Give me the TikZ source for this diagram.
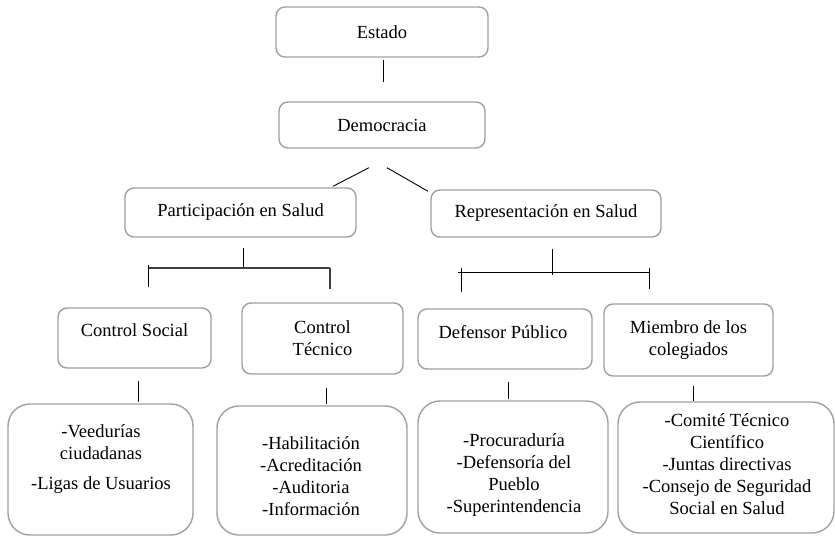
\documentclass[tikz,border=0pt]{standalone}
\usepackage{fontspec}
\setmainfont{Liberation Serif}
\usetikzlibrary{calc}
\definecolor{boxgray}{HTML}{A0A0A0}
\definecolor{brkgray}{HTML}{404040}
\begin{document}
\begin{tikzpicture}[x=1pt,y=-1pt,
  box/.style={draw=boxgray, line width=1.4pt, rounded corners=9pt, inner sep=0pt, align=center, font=\fontsize{18.5}{22}\selectfont},
  bigbox/.style={box, rounded corners=22pt},
  txt/.style={align=center, inner sep=0pt, font=\fontsize{18.5}{22}\selectfont},
  conn/.style={draw=black, line width=0.9pt},
  brk/.style={draw=brkgray, line width=1.3pt}]
\useasboundingbox (0,0) rectangle (835,544);

% top
\node[box, minimum width=212pt, minimum height=50pt] (estado) at (382,32) {Estado};
\node[box, minimum width=206pt, minimum height=46pt] (democracia) at (382,125) {Democracia};
\node[box, minimum width=231pt, minimum height=49pt] (part) at (240.5,212.5) {Participación en Salud};
\node[box, minimum width=230pt, minimum height=47pt] (repr) at (546,213.5) {Representación en Salud};

% middle
\node[box, minimum width=153pt, minimum height=60pt] (cs) at (134.5,338) {};
\node[txt] (tcs) at (134.5,330) {Control Social};
\node[box, minimum width=161pt, minimum height=71pt] (ct) at (322.5,338.5) {Control\\Técnico};
\node[box, minimum width=174pt, minimum height=60pt] (dp) at (505,339) {};
\node[txt] (tdp) at (503,332) {Defensor Público};
\node[box, minimum width=169pt, minimum height=72pt] (mc) at (688.5,340) {Miembro de los\\colegiados};

% bottom
\node[bigbox, minimum width=185pt, minimum height=131pt] (b1) at (100.5,469.5) {};
\node[txt] (tb1) at (101,459) {-Veedurías\\ciudadanas\\[8pt]-Ligas de Usuarios};
\node[bigbox, minimum width=190pt, minimum height=129pt] (b2) at (312,470.5) {};
\node[txt] (tb2) at (311,476) {-Habilitación\\-Acreditación\\-Auditoria\\-Información};
\node[bigbox, minimum width=190pt, minimum height=132pt] (b3) at (513,467) {};
\node[txt] (tb3) at (514,475) {-Procuraduría\\-Defensoría del\\Pueblo\\-Superintendencia};
\node[bigbox, minimum width=216pt, minimum height=131pt] (b4) at (726,467.5) {};
\node[txt] (tb4) at (727,464) {-Comité Técnico\\Científico\\-Juntas directivas\\-Consejo de Seguridad\\Social en Salud};

% connectors top
\draw[conn] ($(estado.south)+(1,2)$) -- ($(democracia.north)+(1,-19)$);
\draw[conn] ($(democracia.south)+(-13,19)$) -- ($(part.north)+(92.5,-1)$);
\draw[conn] ($(democracia.south)+(5,19)$) -- ($(repr.north)+(-118,2)$);

% left bracket
\coordinate (lbs) at ($(part.south)+(2.5,31)$);
\coordinate (lbl) at (148,268);
\coordinate (lbr) at (330,268);
\draw[conn] ($(part.south)+(2.5,10)$) -- (lbs);
\draw[brk] (lbl) -- (lbr);
\draw[conn] ($(lbl)+(0,-3)$) -- ($(lbl)+(0,19)$);
\draw[brk] (lbr) -- ($(lbr)+(0,21)$);

% right bracket
\coordinate (rbs) at ($(repr.south)+(6,37)$);
\coordinate (rbl) at (458,272);
\coordinate (rbr) at (649,272);
\draw[conn] ($(repr.south)+(6,11)$) -- (rbs);
\draw[conn] (rbl) -- (rbr);
\draw[conn] (461,268) -- (461,292);
\draw[conn] ($(rbr)+(0,-4)$) -- ($(rbr)+(0,17)$);

% lower connectors
\draw[conn] ($(cs.south)+(3.5,12)$) -- ($(b1.north)+(37.5,-1)$);
\draw[conn] ($(ct.south)+(3.5,13)$) -- ($(b2.north)+(14,-1)$);
\draw[conn] ($(dp.south)+(3,12)$) -- ($(b3.north)+(-5,-1)$);
\draw[conn] ($(mc.south)+(4.5,9)$) -- ($(b4.north)+(-33,0)$);
\end{tikzpicture}
\end{document}
